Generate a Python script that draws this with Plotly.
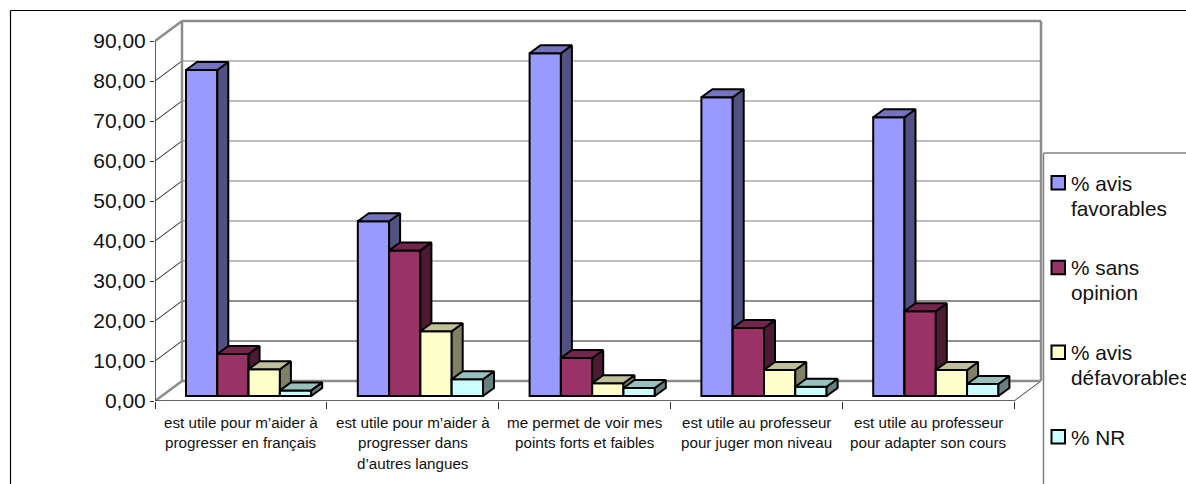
import plotly.graph_objects as go

# Survey results by statement and response type
categories = [
    ["est utile pour m’aider à", "progresser en français"],
    ["est utile pour m’aider à", "progresser dans", "d’autres langues"],
    ["me permet de voir mes", "points forts et faibles"],
    ["est utile au professeur", "pour juger mon niveau"],
    ["est utile au professeur", "pour adapter son cours"],
]
favorables = [81.5, 43.7, 85.7, 74.7, 69.7]
sans_opinion = [10.5, 36.4, 9.5, 17.0, 21.2]
defavorables = [6.7, 16.2, 3.2, 6.5, 6.5]
non_reponse = [1.4, 4.2, 2.0, 2.3, 3.0]
y_ticks = [0, 10, 20, 30, 40, 50, 60, 70, 80, 90]

series = [
    (["% avis", "favorables"], favorables, "#9999FF", "#7373BF", "#525280"),
    (["% sans", "opinion"], sans_opinion, "#993366", "#73264D", "#4D1A33"),
    (["% avis", "défavorables"], defavorables, "#FFFFCC", "#BFBF99", "#808066"),
    (["% NR"], non_reponse, "#CCFFFF", "#99BFBF", "#668080"),
]

W, H = 1186, 484
PLOT_L, PLOT_R, PLOT_T, PLOT_B = 155, 1045, 15, 401
PX_X = 171.8   # pixels per category
PX_Y = 4.0     # pixels per percentage point
x_max = (PLOT_R - PLOT_L) / PX_X
y_max = (PLOT_B - PLOT_T) / PX_Y

# Oblique projection of the box and of each bar
WALL_DX, WALL_DY = 27 / PX_X, 20 / PX_Y
BAR_DX, BAR_DY = 11 / PX_X, 8 / PX_Y
BAR_FLOOR = 5 / PX_Y
BAR_W = 31.3 / PX_X
GROUP_START = 31 / PX_X
n_cat = len(categories)


def px(x):
    """Page pixel column to paper fraction of the plot area."""
    return (x - PLOT_L) / (PLOT_R - PLOT_L)


def py(y):
    """Page pixel row to paper fraction of the plot area."""
    return (PLOT_B - y) / (PLOT_B - PLOT_T)


def segments(pairs):
    xs, ys = [], []
    for (x0, y0), (x1, y1) in pairs:
        xs += [x0, x1, None]
        ys += [y0, y1, None]
    return xs, ys


fig = go.Figure()


def add_lines(pairs, color, width):
    xs, ys = segments(pairs)
    fig.add_trace(go.Scatter(x=xs, y=ys, mode="lines", showlegend=False, hoverinfo="skip",
                             line=dict(color=color, width=width)))


# Back wall grid lines and side wall diagonals
light = [v for v in y_ticks[1:-1] if v >= 30]
dark = [v for v in y_ticks[1:-1] if v < 30]
wall_l, wall_r = WALL_DX, n_cat + WALL_DX
add_lines([((wall_l, v + WALL_DY), (wall_r, v + WALL_DY)) for v in light], "#7f7f7f", 1.2)
add_lines([((wall_l, v + WALL_DY), (wall_r, v + WALL_DY)) for v in dark], "#202020", 1)
add_lines([((0, v), (WALL_DX, v + WALL_DY)) for v in y_ticks[1:-1]], "#202020", 1)
add_lines([((n_cat, 0), (wall_r, WALL_DY))], "#404040", 1)
top, bottom = y_ticks[-1], y_ticks[0]
add_lines([
    ((wall_l, bottom + WALL_DY), (wall_l, top + WALL_DY)),
    ((wall_r, bottom + WALL_DY), (wall_r, top + WALL_DY)),
    ((wall_l, top + WALL_DY), (wall_r, top + WALL_DY)),
    ((wall_l, bottom + WALL_DY), (wall_r, bottom + WALL_DY)),
    ((0, top), (wall_l, top + WALL_DY)),
    ((0, bottom), (wall_l, bottom + WALL_DY)),
], "#8c8c8c", 2.5)

# Front axis lines
add_lines([((0, bottom), (0, top)), ((0, bottom), (n_cat, bottom))], "#333333", 1.6)

# One overlaid subplot per series, so nearer bars cover the faces behind them
for s, (name, values, front, top_col, side_col) in enumerate(series):
    ax = str(s + 2)
    lefts = [i + GROUP_START + s * BAR_W for i in range(n_cat)]
    centers = [l + BAR_W / 2 for l in lefts]
    side_x, side_y, top_x, top_y = [], [], [], []
    for l, v in zip(lefts, values):
        r = l + BAR_W
        t = BAR_FLOOR + v
        side_x += [r, r + BAR_DX, r + BAR_DX, r, r, None]
        side_y += [BAR_FLOOR, BAR_FLOOR + BAR_DY, t + BAR_DY, t, BAR_FLOOR, None]
        top_x += [l, l + BAR_DX, r + BAR_DX, r, l, None]
        top_y += [t, t + BAR_DY, t + BAR_DY, t, t, None]
    for fx, fy, col in ((side_x, side_y, side_col), (top_x, top_y, top_col)):
        fig.add_trace(go.Scatter(x=fx, y=fy, xaxis="x" + ax, yaxis="y" + ax, mode="lines",
                                 fill="toself", fillcolor=col, showlegend=False,
                                 hoverinfo="skip", line=dict(color="black", width=2)))
    fig.add_trace(go.Bar(x=centers, y=values, base=BAR_FLOOR, width=BAR_W, name=" ".join(name),
                         xaxis="x" + ax, yaxis="y" + ax, showlegend=False,
                         marker=dict(color=front, line=dict(color="black", width=2))))
    overlay = dict(range=[0, x_max], overlaying="x", anchor="y" + ax, visible=False)
    overlay_y = dict(range=[0, y_max], overlaying="y", anchor="x" + ax, visible=False)
    fig.update_layout({"xaxis" + ax: overlay, "yaxis" + ax: overlay_y})

# Category labels, one annotation per line for their wide leading
annotations = []
for i, lines in enumerate(categories):
    for k, line in enumerate(lines):
        annotations.append(dict(x=i + 0.5, y=0, xref="x", yref="y", text=line, showarrow=False,
                                xanchor="center", yanchor="middle", yshift=-(21 + 20.6 * k),
                                font=dict(size=15.2, color="#111111")))

# Outer frame and legend box, both running off the page edge
frame = dict(type="line", xref="paper", yref="paper")
shapes = [
    dict(frame, x0=px(10.5), x1=px(10.5), y0=py(10.5), y1=py(H), line=dict(color="black", width=1.2)),
    dict(frame, x0=px(10.5), x1=px(W), y0=py(10.5), y1=py(10.5), line=dict(color="black", width=1.2)),
    dict(frame, x0=px(1043.5), x1=px(1043.5), y0=py(153), y1=py(H), line=dict(color="#808080", width=1.5)),
    dict(frame, x0=px(1043.5), x1=px(W), y0=py(153), y1=py(153), line=dict(color="#808080", width=1.5)),
]

# Legend keys sit beside the first line of each entry, and entries share a fixed pitch
for s, (name, _, front, _, _) in enumerate(series):
    first_line = 183 + 84.7 * s
    shapes.append(dict(type="rect", xref="paper", yref="paper",
                       x0=px(1051.5), x1=px(1065), y0=py(first_line - 7), y1=py(first_line + 6.5),
                       fillcolor=front, line=dict(color="black", width=2)))
    for k, line in enumerate(name):
        annotations.append(dict(x=px(1069.5), y=py(first_line + 25 * k), xref="paper", yref="paper",
                                text=line, showarrow=False, xanchor="left", yanchor="middle",
                                borderpad=0, font=dict(size=20.8, color="#111111")))

fig.update_layout(
    width=W, height=H,
    margin=dict(l=PLOT_L, r=W - PLOT_R, t=PLOT_T, b=H - PLOT_B, autoexpand=False),
    paper_bgcolor="white", plot_bgcolor="white",
    font=dict(family="Liberation Sans, Arial, sans-serif", color="black"),
    barmode="overlay", separators=", ",
    showlegend=False,
    xaxis=dict(range=[0, x_max], tickmode="array", tickvals=list(range(n_cat + 1)),
               showticklabels=False, ticks="outside", ticklen=7, tickwidth=1.2, tickcolor="#333333",
               showgrid=False, zeroline=False, showline=False),
    yaxis=dict(range=[0, y_max], tickmode="array", tickvals=y_ticks, tickformat=".2f",
               ticks="outside", ticklen=4, tickwidth=1.2, tickcolor="#333333",
               tickfont=dict(size=21, color="#111111"), showgrid=False, zeroline=False, showline=False),
    annotations=annotations, shapes=shapes,
)

fig.write_html("out.html", config=dict(displayModeBar=False))
